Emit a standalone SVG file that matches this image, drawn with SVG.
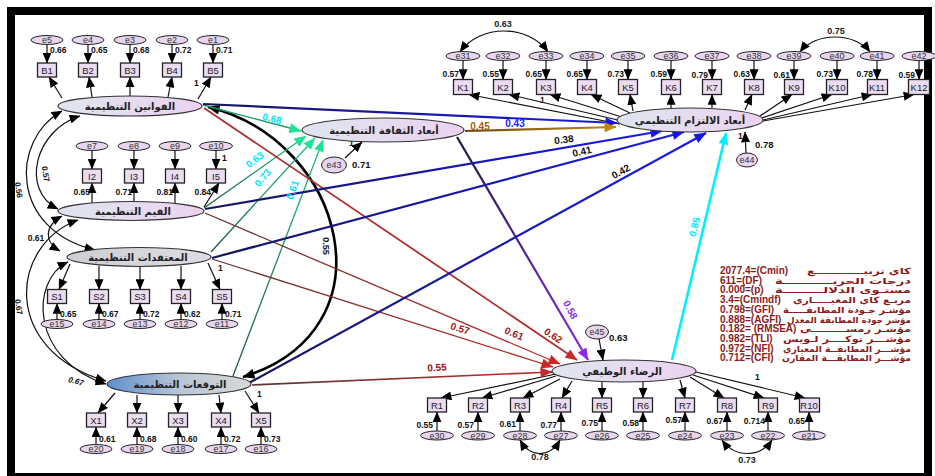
<svg xmlns="http://www.w3.org/2000/svg" width="935" height="476" viewBox="0 0 935 476">
<style>
  .box{fill:#ecdcf2;stroke:#222;stroke-width:1.3}
  .err{fill:#e8d6ef;stroke:#222;stroke-width:1}
  .lat{stroke:#333;stroke-width:1.2}
  .bt{font-family:"Liberation Sans",Arial,sans-serif;font-size:9.5px;fill:#222;text-anchor:middle}
  .et{font-family:"Liberation Sans",Arial,sans-serif;font-size:9px;fill:#333;text-anchor:middle}
  .lt{font-family:"DejaVu Sans","Noto Sans",sans-serif;font-size:10px;font-weight:bold;fill:#222}
  .ld{font-family:"Liberation Sans",Arial,sans-serif;font-size:8.5px;font-weight:bold;fill:#111}
  .pl{font-family:"Liberation Sans",Arial,sans-serif;font-size:10px;font-weight:bold}
  .st{font-family:"Liberation Sans",Arial,sans-serif;font-size:10px;font-weight:bold;fill:#8b1a1a}
  .sa{font-family:"DejaVu Sans","Noto Sans",sans-serif;font-size:8.5px;font-weight:bold;fill:#8b1a1a}
  .ind{fill:none;stroke:#111;stroke-width:1.2;marker-end:url(#ak)}
  .cov{fill:none;stroke:#111;stroke-width:1.2;marker-start:url(#akd);marker-end:url(#akd)}
</style>
<defs>
  <marker id="ak" viewBox="0 0 12 10" refX="11.5" refY="5" markerWidth="11" markerHeight="9" markerUnits="userSpaceOnUse" orient="auto"><path d="M0,0L12,5L0,10z" fill="#000"/></marker>
  <marker id="akd" viewBox="0 0 12 10" refX="11.5" refY="5" markerWidth="11" markerHeight="9" markerUnits="userSpaceOnUse" orient="auto-start-reverse"><path d="M0,0L12,5L0,10z" fill="#000"/></marker>
  <marker id="ag" viewBox="0 0 12 10" refX="11.5" refY="5" markerWidth="14" markerHeight="10" markerUnits="userSpaceOnUse" orient="auto"><path d="M0,0L12,5L0,10z" fill="#1fe394"/></marker>
  <marker id="ab" viewBox="0 0 12 10" refX="11.5" refY="5" markerWidth="14" markerHeight="10" markerUnits="userSpaceOnUse" orient="auto"><path d="M0,0L12,5L0,10z" fill="#1515f0"/></marker>
  <marker id="ar" viewBox="0 0 12 10" refX="11.5" refY="5" markerWidth="14" markerHeight="10" markerUnits="userSpaceOnUse" orient="auto"><path d="M0,0L12,5L0,10z" fill="#c42a2a"/></marker>
  <marker id="ap" viewBox="0 0 12 10" refX="11.5" refY="5" markerWidth="14" markerHeight="10" markerUnits="userSpaceOnUse" orient="auto"><path d="M0,0L12,5L0,10z" fill="#8a2be2"/></marker>
  <marker id="ac" viewBox="0 0 12 10" refX="11.5" refY="5" markerWidth="14" markerHeight="10" markerUnits="userSpaceOnUse" orient="auto"><path d="M0,0L12,5L0,10z" fill="#00f0ff"/></marker>
  <marker id="ao" viewBox="0 0 12 10" refX="11.5" refY="5" markerWidth="14" markerHeight="10" markerUnits="userSpaceOnUse" orient="auto"><path d="M0,0L12,5L0,10z" fill="#c08a14"/></marker>
  <marker id="akb" viewBox="0 0 12 10" refX="11.5" refY="5" markerWidth="14" markerHeight="10" markerUnits="userSpaceOnUse" orient="auto-start-reverse"><path d="M0,0L12,5L0,10z" fill="#000"/></marker>
  <linearGradient id="gLat" x1="0" y1="0" x2="1" y2="0"><stop offset="0" stop-color="#dfe5ef"/><stop offset="1" stop-color="#ecd2f0"/></linearGradient>
  <linearGradient id="gBel" x1="0" y1="0" x2="1" y2="0"><stop offset="0" stop-color="#cdcdd4"/><stop offset="1" stop-color="#dedde4"/></linearGradient>
  <linearGradient id="gExp" x1="0" y1="0" x2="1" y2="0"><stop offset="0" stop-color="#5f8fcc"/><stop offset="0.5" stop-color="#b9c5d6"/><stop offset="1" stop-color="#d8d8d8"/></linearGradient>
  <linearGradient id="gNavy" x1="0" y1="0" x2="1" y2="0"><stop offset="0" stop-color="#16165a"/><stop offset="1" stop-color="#1a1af0"/></linearGradient>
  <linearGradient id="gRed" x1="0" y1="0" x2="1" y2="0"><stop offset="0" stop-color="#5e3434"/><stop offset="1" stop-color="#c02a2a"/></linearGradient>
  <linearGradient id="gGrn" x1="0" y1="0" x2="1" y2="0"><stop offset="0" stop-color="#1d5a40"/><stop offset="1" stop-color="#1cc47c"/></linearGradient>
  <linearGradient id="gGold" x1="0" y1="0" x2="1" y2="0"><stop offset="0" stop-color="#6a4a14"/><stop offset="1" stop-color="#c08a14"/></linearGradient>
  <linearGradient id="gPur" gradientUnits="userSpaceOnUse" x1="457" y1="137" x2="588" y2="360"><stop offset="0" stop-color="#1c1c3c"/><stop offset="1" stop-color="#8a2be2"/></linearGradient>
</defs>

<rect x="0" y="0" width="935" height="476" fill="#fff"/>
<rect x="11" y="11" width="917" height="466" fill="none" stroke="#000" stroke-width="8"/>

<!-- connectors -->
<g id="connectors">
  <!-- laws -> B indicators, errors -> B -->
  <path class="ind" d="M62,98L49,77"/><path class="ind" d="M92,97L89,77"/><path class="ind" d="M130,96L130,77"/><path class="ind" d="M168,97L172,77"/><path class="ind" d="M198,99L211,77"/>
  <path class="ind" d="M47,45L47,63"/><path class="ind" d="M88,45L88,63"/><path class="ind" d="M130,45L130,63"/><path class="ind" d="M172,45L172,63"/><path class="ind" d="M213,45L213,63"/>
  <!-- values -> I -->
  <path class="ind" d="M92,203L92,183"/><path class="ind" d="M134,202L134,183"/><path class="ind" d="M175,203L175,183"/><path class="ind" d="M204,207L219,183"/>
  <path class="ind" d="M92,151L92,169"/><path class="ind" d="M134,151L134,169"/><path class="ind" d="M175,151L175,169"/><path class="ind" d="M216,151L216,169"/>
  <!-- beliefs -> S -->
  <path class="ind" d="M70,264L59,289.5"/><path class="ind" d="M99,266L99,289.5"/><path class="ind" d="M140,267L140,289.5"/><path class="ind" d="M181,266L181,289.5"/><path class="ind" d="M208,263L220,289.5"/>
  <path class="ind" d="M57,319.5L57,303.5"/><path class="ind" d="M99,319.5L99,303.5"/><path class="ind" d="M140,319.5L140,303.5"/><path class="ind" d="M181,319.5L181,303.5"/><path class="ind" d="M222,319.5L222,303.5"/>
  <!-- expectations -> X -->
  <path class="ind" d="M115,393L98,413"/><path class="ind" d="M137,395L137,413"/><path class="ind" d="M178,395L178,413"/><path class="ind" d="M219,395L221,413"/><path class="ind" d="M245,391L259,413"/>
  <path class="ind" d="M96,444.5L96,427"/><path class="ind" d="M137,444.5L137,427"/><path class="ind" d="M178,444.5L178,427"/><path class="ind" d="M221,444.5L221,427"/><path class="ind" d="M261,444.5L261,427"/>
  <!-- commitment -> K -->
  <path class="ind" d="M620,124L469,94.5"/><path class="ind" d="M622,121L509,94.5"/><path class="ind" d="M625,118L550,94.5"/><path class="ind" d="M630,113L591,94.5"/>
  <path class="ind" d="M633,111L630,94.5"/><path class="ind" d="M671,108L671,94.5"/><path class="ind" d="M712,108L712,94.5"/><path class="ind" d="M745,110L752,94.5"/>
  <path class="ind" d="M760,116L792,94.5"/><path class="ind" d="M762,118L832,94.5"/><path class="ind" d="M763,120L872,94.5"/><path class="ind" d="M763,121L914,94.5"/>
  <path class="ind" d="M463,61L463,79.5"/><path class="ind" d="M503,61L503,79.5"/><path class="ind" d="M546,61L546,79.5"/><path class="ind" d="M587,61L587,79.5"/><path class="ind" d="M628,61L628,79.5"/><path class="ind" d="M671,61L671,79.5"/>
  <path class="ind" d="M712,61L712,79.5"/><path class="ind" d="M754,61L754,79.5"/><path class="ind" d="M794,61L794,79.5"/><path class="ind" d="M837,61L837,79.5"/><path class="ind" d="M877,61L877,79.5"/><path class="ind" d="M919,61L919,79.5"/>
  <!-- satisfaction -> R -->
  <path class="ind" d="M556,374L441,398"/><path class="ind" d="M556,376L482,398"/><path class="ind" d="M560,379L523,398"/><path class="ind" d="M572,381L562,398"/>
  <path class="ind" d="M602,382L602,398"/><path class="ind" d="M643,382L643,398"/><path class="ind" d="M680,380L685,398"/>
  <path class="ind" d="M690,377L724,398"/><path class="ind" d="M693,375L764,398"/><path class="ind" d="M696,372L805,398"/>
  <path class="ind" d="M437,431L437,412"/><path class="ind" d="M478,431L478,412"/><path class="ind" d="M520,431L520,412"/><path class="ind" d="M561,431L561,412"/><path class="ind" d="M602,431L602,412"/>
  <path class="ind" d="M643,431L643,412"/><path class="ind" d="M685,431L685,412"/><path class="ind" d="M727,431L727,412"/><path class="ind" d="M768,431L768,412"/><path class="ind" d="M809,431L809,412"/>
  <!-- disturbances -->
  <path class="ind" d="M345,158L362,142"/>
  <path class="ind" d="M746,153L745,132"/>
  <path class="ind" d="M599,339L603,360"/>
  <!-- error covariances -->
  <path class="cov" d="M460,52C480,24 528,24 548,52"/>
  <path class="cov" d="M800,52C815,32 855,32 870,52"/>
  <path class="cov" d="M520,440C530,458 550,458 560,440"/>
  <path class="cov" d="M722,440C735,458 760,458 772,440"/>
  <!-- covariances between exogenous factors -->
  <path class="cov" d="M80,116C35,130 20,190 58,209"/>
  <path class="cov" d="M62,111C10,140 10,230 95,250"/>
  <path class="cov" d="M62,216C44,226 44,242 60,251"/>
  <path class="cov" d="M78,220C10,245 0,350 106,381"/>
  <path class="cov" d="M68,262C30,280 30,360 106,384"/>
  <path d="M208,107C345,140 395,330 243,377" fill="none" stroke="#000" stroke-width="2.6" marker-start="url(#akb)" marker-end="url(#akb)"/>
  <!-- paths to organisational culture -->
  <path d="M203,105L301,131" fill="none" stroke="#1aa064" stroke-width="1.3" marker-end="url(#ag)"/>
  <path d="M204,208L306,136" fill="none" stroke="url(#gGrn)" stroke-width="1.3" marker-end="url(#ag)"/>
  <path d="M211,252L315,138" fill="none" stroke="url(#gGrn)" stroke-width="1.3" marker-end="url(#ag)"/>
  <path d="M233,376L323,140" fill="none" stroke="url(#gGrn)" stroke-width="1.3" marker-end="url(#ag)"/>
  <!-- paths to satisfaction -->
  <path d="M204,108L577,360" fill="none" stroke="#b03030" stroke-width="1.8" marker-end="url(#ar)"/>
  <path d="M205,213L560,364" fill="none" stroke="url(#gRed)" stroke-width="1.3" marker-end="url(#ar)"/>
  <path d="M212,259L553,367" fill="none" stroke="url(#gRed)" stroke-width="1.3" marker-end="url(#ar)"/>
  <path d="M252,385L552,372" fill="none" stroke="url(#gRed)" stroke-width="1.6" marker-end="url(#ar)"/>
  <path d="M457,137L588,360" fill="none" stroke="url(#gPur)" stroke-width="2.2" marker-end="url(#ap)"/>
  <!-- paths to commitment -->
  <path d="M203,104L617,123" fill="none" stroke="url(#gNavy)" stroke-width="2.2" marker-end="url(#ab)"/>
  <path d="M465,131L616,127" fill="none" stroke="url(#gGold)" stroke-width="2.2" marker-end="url(#ao)"/>
  <path d="M205,209L662,131" fill="none" stroke="url(#gNavy)" stroke-width="2.2" marker-end="url(#ab)"/>
  <path d="M212,258L684,132" fill="none" stroke="url(#gNavy)" stroke-width="2.2" marker-end="url(#ab)"/>
  <path d="M247,384L706,133" fill="none" stroke="url(#gNavy)" stroke-width="2.2" marker-end="url(#ab)"/>
  <path d="M672,360L726,133" fill="none" stroke="#00f0ff" stroke-width="2.6" marker-end="url(#ac)"/>
</g>

<!-- path coefficients -->
<g id="coefficients" class="pl">
  <text x="272" y="122" fill="#00e5ff" text-anchor="middle" transform="rotate(15 272 119)">0.68</text>
  <text x="255" y="163" fill="#00e5ff" text-anchor="middle" transform="rotate(-37 255 160)">0.63</text>
  <text x="263" y="181" fill="#00e5ff" text-anchor="middle" transform="rotate(-50 263 178)">0.73</text>
  <text x="293" y="193" fill="#00e5ff" text-anchor="middle" transform="rotate(-70 293 190)">0.61</text>
  <text x="480" y="130" fill="#a0620a" text-anchor="middle">0.45</text>
  <text x="515" y="127" fill="#2020ff" text-anchor="middle">0.43</text>
  <text x="564" y="143" fill="#111" text-anchor="middle" transform="rotate(-8 564 140)">0.38</text>
  <text x="582" y="155" fill="#111" text-anchor="middle" transform="rotate(-13 582 152)">0.41</text>
  <text x="621" y="175" fill="#111" text-anchor="middle" transform="rotate(-29 621 172)">0.42</text>
  <text x="695" y="230" fill="#00e5ff" text-anchor="middle" transform="rotate(-76 695 227)">0.85</text>
  <text x="326" y="249" fill="#111" text-anchor="middle" font-size="9" transform="rotate(90 326 246)">0.55</text>
  <text x="553" y="339" fill="#a01414" text-anchor="middle" transform="rotate(33 553 336)">0.62</text>
  <text x="514" y="337" fill="#a01414" text-anchor="middle" transform="rotate(23 514 334)">0.61</text>
  <text x="460" y="332" fill="#a01414" text-anchor="middle" transform="rotate(17 460 329)">0.57</text>
  <text x="437" y="371" fill="#a01414" text-anchor="middle" transform="rotate(-3 437 368)">0.55</text>
  <text x="570" y="313" fill="#8a2be2" text-anchor="middle" transform="rotate(62 570 310)">0.58</text>
  <!-- covariances -->
  <text x="46" y="177" fill="#111" font-size="8" text-anchor="middle" transform="rotate(80 46 174)">0.57</text>
  <text x="19" y="193" fill="#111" font-size="8" text-anchor="middle" transform="rotate(80 19 190)">0.56</text>
  <text x="36" y="241" fill="#111" font-size="8.5" text-anchor="middle">0.61</text>
  <text x="19" y="310" fill="#111" font-size="8" text-anchor="middle" transform="rotate(80 19 307)">0.67</text>
  <text x="76" y="384" fill="#111" font-size="8" font-style="italic" text-anchor="middle" transform="rotate(15 76 381)">0.67</text>
  <text x="503" y="27" fill="#222" font-size="9" text-anchor="middle">0.63</text>
  <text x="836" y="34" fill="#222" font-size="9" text-anchor="middle">0.75</text>
  <text x="540" y="460" fill="#222" font-size="9" text-anchor="middle">0.78</text>
  <text x="747" y="463" fill="#222" font-size="9" text-anchor="middle">0.73</text>
  <!-- disturbance values and fixed paths -->
  <text x="352" y="168" fill="#111" font-size="9.5">0.71</text>
  <text x="755" y="148" fill="#111" font-size="9.5">0.78</text>
  <text x="609" y="341" fill="#111" font-size="9.5">0.63</text>
</g>
<g id="fixed" class="ld" font-weight="normal">
  <text x="194" y="86">1</text><text x="222" y="161">1</text><text x="218" y="271">1</text><text x="257" y="397">1</text>
  <text x="540" y="103">1</text><text x="755" y="380">1</text><text x="349" y="146">1</text><text x="738" y="139">1</text>
</g>

<!-- loadings -->
<g id="loadings" class="ld">
  <text x="50" y="53">0.66</text><text x="91" y="53">0.65</text><text x="133" y="53">0.68</text><text x="175" y="53">0.72</text><text x="216" y="53">0.71</text>
  <g text-anchor="end"><text x="90" y="195">0.65</text><text x="132" y="195">0.71</text><text x="173" y="195">0.81</text><text x="211" y="195">0.84</text></g>
  <text x="60" y="317">0.65</text><text x="102" y="317">0.67</text><text x="143" y="317">0.72</text><text x="184" y="317">0.62</text><text x="225" y="317">0.71</text>
  <text x="99" y="442">0.61</text><text x="140" y="442">0.68</text><text x="181" y="442">0.60</text><text x="224" y="442">0.72</text><text x="264" y="442">0.73</text>
  <g text-anchor="end">
    <text x="459" y="77">0.57</text><text x="499" y="77">0.55</text><text x="542" y="77">0.65</text><text x="583" y="77">0.65</text><text x="624" y="77">0.73</text><text x="667" y="77">0.59</text>
    <text x="708" y="78">0.79</text><text x="750" y="77">0.63</text><text x="790" y="78">0.61</text><text x="833" y="77">0.73</text><text x="873" y="77">0.78</text><text x="915" y="78">0.59</text>
    <text x="433" y="428">0.55</text><text x="474" y="428">0.57</text><text x="516" y="427">0.61</text><text x="557" y="428">0.77</text><text x="598" y="426">0.75</text>
    <text x="639" y="426">0.58</text><text x="682" y="423">0.57</text><text x="723" y="424">0.67</text><text x="765" y="424">0.714</text><text x="805" y="424">0.65</text>
  </g>
</g>

<!-- latent factors -->
<g id="n-laws"><ellipse class="lat" cx="130" cy="106" rx="72" ry="10" fill="url(#gLat)"/><text class="lt" x="130" y="109.5" text-anchor="middle">القوانين التنظيمية</text></g>
<g id="n-values"><ellipse class="lat" cx="131" cy="211" rx="73" ry="9.5" fill="url(#gLat)"/><text class="lt" x="133" y="214.5" text-anchor="middle">القيم التنظيمية</text></g>
<g id="n-beliefs"><ellipse class="lat" cx="139" cy="257" rx="72" ry="9.5" fill="url(#gBel)"/><text class="lt" x="138" y="260.5" text-anchor="middle">المعتقدات التنظيمية</text></g>
<g id="n-expect"><ellipse class="lat" cx="179" cy="384" rx="72" ry="11" fill="url(#gExp)"/><text class="lt" x="180" y="387.5" text-anchor="middle">التوقعات التنظيمية</text></g>
<g id="n-culture"><ellipse class="lat" cx="383" cy="130" rx="81" ry="12" fill="url(#gLat)"/><text class="lt" x="384" y="133.5" text-anchor="middle">أبعاد الثقافة التنظيمية</text></g>
<g id="n-commit"><ellipse class="lat" cx="690" cy="120" rx="73" ry="12" fill="url(#gLat)"/><text class="lt" x="690" y="123.5" text-anchor="middle">أبعاد الالتزام التنظيمي</text></g>
<g id="n-satis"><ellipse class="lat" cx="624" cy="371" rx="72" ry="11" fill="url(#gLat)"/><text class="lt" x="622" y="374.5" text-anchor="middle">الرضاء الوظيفي</text></g>

<!-- disturbances -->
<g id="n-e43"><ellipse class="err" cx="334" cy="165" rx="12.5" ry="8"/><text class="et" x="334" y="168">e43</text></g>
<g id="n-e44"><ellipse class="err" cx="747" cy="160" rx="10.5" ry="7"/><text class="et" x="747" y="163">e44</text></g>
<g id="n-e45"><ellipse class="err" cx="597" cy="332" rx="11.5" ry="7"/><text class="et" x="597" y="335">e45</text></g>

<!-- B indicators -->
<g id="n-B1"><rect class="box" x="37.5" y="63" width="19" height="14"/><text class="bt" x="47" y="73.5">B1</text></g>
<g id="n-B2"><rect class="box" x="78.5" y="63" width="19" height="14"/><text class="bt" x="88" y="73.5">B2</text></g>
<g id="n-B3"><rect class="box" x="120.5" y="63" width="19" height="14"/><text class="bt" x="130" y="73.5">B3</text></g>
<g id="n-B4"><rect class="box" x="162.5" y="63" width="19" height="14"/><text class="bt" x="172" y="73.5">B4</text></g>
<g id="n-B5"><rect class="box" x="203.5" y="63" width="19" height="14"/><text class="bt" x="213" y="73.5">B5</text></g>
<g id="n-e5"><ellipse class="err" cx="47" cy="40" rx="16" ry="4.5"/><text class="et" x="47" y="43">e5</text></g>
<g id="n-e4"><ellipse class="err" cx="88" cy="40" rx="16" ry="4.5"/><text class="et" x="88" y="43">e4</text></g>
<g id="n-e3"><ellipse class="err" cx="130" cy="40" rx="16" ry="4.5"/><text class="et" x="130" y="43">e3</text></g>
<g id="n-e2"><ellipse class="err" cx="172" cy="40" rx="16" ry="4.5"/><text class="et" x="172" y="43">e2</text></g>
<g id="n-e1"><ellipse class="err" cx="213" cy="40" rx="16" ry="4.5"/><text class="et" x="213" y="43">e1</text></g>

<!-- I indicators -->
<g id="n-I2"><rect class="box" x="82.5" y="169" width="19" height="14"/><text class="bt" x="92" y="179.5">I2</text></g>
<g id="n-I3"><rect class="box" x="124.5" y="169" width="19" height="14"/><text class="bt" x="134" y="179.5">I3</text></g>
<g id="n-I4"><rect class="box" x="165.5" y="169" width="19" height="14"/><text class="bt" x="175" y="179.5">I4</text></g>
<g id="n-I5"><rect class="box" x="206.5" y="169" width="19" height="14"/><text class="bt" x="216" y="179.5">I5</text></g>
<g id="n-e7"><ellipse class="err" cx="92" cy="146" rx="16" ry="4.5"/><text class="et" x="92" y="149">e7</text></g>
<g id="n-e8"><ellipse class="err" cx="134" cy="146" rx="16" ry="4.5"/><text class="et" x="134" y="149">e8</text></g>
<g id="n-e9"><ellipse class="err" cx="175" cy="146" rx="16" ry="4.5"/><text class="et" x="175" y="149">e9</text></g>
<g id="n-e10"><ellipse class="err" cx="216" cy="146" rx="16.5" ry="4.5"/><text class="et" x="216" y="149">e10</text></g>

<!-- S indicators -->
<g id="n-S1"><rect class="box" x="47.5" y="289.5" width="19" height="14"/><text class="bt" x="57" y="300">S1</text></g>
<g id="n-S2"><rect class="box" x="89.5" y="289.5" width="19" height="14"/><text class="bt" x="99" y="300">S2</text></g>
<g id="n-S3"><rect class="box" x="130.5" y="289.5" width="19" height="14"/><text class="bt" x="140" y="300">S3</text></g>
<g id="n-S4"><rect class="box" x="171.5" y="289.5" width="19" height="14"/><text class="bt" x="181" y="300">S4</text></g>
<g id="n-S5"><rect class="box" x="212.5" y="289.5" width="19" height="14"/><text class="bt" x="222" y="300">S5</text></g>
<g id="n-e15"><ellipse class="err" cx="57" cy="324" rx="16" ry="4.5"/><text class="et" x="57" y="327">e15</text></g>
<g id="n-e14"><ellipse class="err" cx="99" cy="324" rx="16" ry="4.5"/><text class="et" x="99" y="327">e14</text></g>
<g id="n-e13"><ellipse class="err" cx="140" cy="324" rx="16" ry="4.5"/><text class="et" x="140" y="327">e13</text></g>
<g id="n-e12"><ellipse class="err" cx="181" cy="324" rx="16" ry="4.5"/><text class="et" x="181" y="327">e12</text></g>
<g id="n-e11"><ellipse class="err" cx="222" cy="324" rx="16" ry="4.5"/><text class="et" x="222" y="327">e11</text></g>

<!-- X indicators -->
<g id="n-X1"><rect class="box" x="86.5" y="413" width="19" height="14"/><text class="bt" x="96" y="423.5">X1</text></g>
<g id="n-X2"><rect class="box" x="127.5" y="413" width="19" height="14"/><text class="bt" x="137" y="423.5">X2</text></g>
<g id="n-X3"><rect class="box" x="168.5" y="413" width="19" height="14"/><text class="bt" x="178" y="423.5">X3</text></g>
<g id="n-X4"><rect class="box" x="211.5" y="413" width="19" height="14"/><text class="bt" x="221" y="423.5">X4</text></g>
<g id="n-X5"><rect class="box" x="251.5" y="413" width="19" height="14"/><text class="bt" x="261" y="423.5">X5</text></g>
<g id="n-e20"><ellipse class="err" cx="96" cy="449" rx="16" ry="4.5"/><text class="et" x="96" y="452">e20</text></g>
<g id="n-e19"><ellipse class="err" cx="137" cy="449" rx="16" ry="4.5"/><text class="et" x="137" y="452">e19</text></g>
<g id="n-e18"><ellipse class="err" cx="178" cy="449" rx="16" ry="4.5"/><text class="et" x="178" y="452">e18</text></g>
<g id="n-e17"><ellipse class="err" cx="221" cy="449" rx="16" ry="4.5"/><text class="et" x="221" y="452">e17</text></g>
<g id="n-e16"><ellipse class="err" cx="261" cy="449" rx="16" ry="4.5"/><text class="et" x="261" y="452">e16</text></g>

<!-- K indicators -->
<g id="n-K1"><rect class="box" x="453.5" y="79.5" width="19" height="15"/><text class="bt" x="463" y="90.5">K1</text></g>
<g id="n-K2"><rect class="box" x="493.5" y="79.5" width="19" height="15"/><text class="bt" x="503" y="90.5">K2</text></g>
<g id="n-K3"><rect class="box" x="536.5" y="79.5" width="19" height="15"/><text class="bt" x="546" y="90.5">K3</text></g>
<g id="n-K4"><rect class="box" x="577.5" y="79.5" width="19" height="15"/><text class="bt" x="587" y="90.5">K4</text></g>
<g id="n-K5"><rect class="box" x="618.5" y="79.5" width="19" height="15"/><text class="bt" x="628" y="90.5">K5</text></g>
<g id="n-K6"><rect class="box" x="661.5" y="79.5" width="19" height="15"/><text class="bt" x="671" y="90.5">K6</text></g>
<g id="n-K7"><rect class="box" x="702.5" y="79.5" width="19" height="15"/><text class="bt" x="712" y="90.5">K7</text></g>
<g id="n-K8"><rect class="box" x="744.5" y="79.5" width="19" height="15"/><text class="bt" x="754" y="90.5">K8</text></g>
<g id="n-K9"><rect class="box" x="784.5" y="79.5" width="19" height="15"/><text class="bt" x="794" y="90.5">K9</text></g>
<g id="n-K10"><rect class="box" x="826.5" y="79.5" width="21" height="15"/><text class="bt" x="837" y="90.5">K10</text></g>
<g id="n-K11"><rect class="box" x="867.5" y="79.5" width="20" height="15"/><text class="bt" x="877" y="90.5">K11</text></g>
<g id="n-K12"><rect class="box" x="908.5" y="79.5" width="21" height="15"/><text class="bt" x="919" y="90.5">K12</text></g>
<g id="n-e31"><ellipse class="err" cx="463" cy="56" rx="17" ry="4.5"/><text class="et" x="463" y="59">e31</text></g>
<g id="n-e32"><ellipse class="err" cx="503" cy="56" rx="17" ry="4.5"/><text class="et" x="503" y="59">e32</text></g>
<g id="n-e33"><ellipse class="err" cx="546" cy="56" rx="17" ry="4.5"/><text class="et" x="546" y="59">e33</text></g>
<g id="n-e34"><ellipse class="err" cx="587" cy="56" rx="17" ry="4.5"/><text class="et" x="587" y="59">e34</text></g>
<g id="n-e35"><ellipse class="err" cx="628" cy="56" rx="17" ry="4.5"/><text class="et" x="628" y="59">e35</text></g>
<g id="n-e36"><ellipse class="err" cx="671" cy="56" rx="17" ry="4.5"/><text class="et" x="671" y="59">e36</text></g>
<g id="n-e37"><ellipse class="err" cx="712" cy="56" rx="17" ry="4.5"/><text class="et" x="712" y="59">e37</text></g>
<g id="n-e38"><ellipse class="err" cx="754" cy="56" rx="17" ry="4.5"/><text class="et" x="754" y="59">e38</text></g>
<g id="n-e39"><ellipse class="err" cx="794" cy="56" rx="17" ry="4.5"/><text class="et" x="794" y="59">e39</text></g>
<g id="n-e40"><ellipse class="err" cx="837" cy="56" rx="17" ry="4.5"/><text class="et" x="837" y="59">e40</text></g>
<g id="n-e41"><ellipse class="err" cx="877" cy="56" rx="17" ry="4.5"/><text class="et" x="877" y="59">e41</text></g>
<g id="n-e42"><ellipse class="err" cx="919" cy="56" rx="17" ry="4.5"/><text class="et" x="919" y="59">e42</text></g>

<!-- R indicators -->
<g id="n-R1"><rect class="box" x="427.5" y="398" width="19" height="14"/><text class="bt" x="437" y="408.5">R1</text></g>
<g id="n-R2"><rect class="box" x="468.5" y="398" width="19" height="14"/><text class="bt" x="478" y="408.5">R2</text></g>
<g id="n-R3"><rect class="box" x="510.5" y="398" width="19" height="14"/><text class="bt" x="520" y="408.5">R3</text></g>
<g id="n-R4"><rect class="box" x="551.5" y="398" width="19" height="14"/><text class="bt" x="561" y="408.5">R4</text></g>
<g id="n-R5"><rect class="box" x="592.5" y="398" width="19" height="14"/><text class="bt" x="602" y="408.5">R5</text></g>
<g id="n-R6"><rect class="box" x="633.5" y="398" width="19" height="14"/><text class="bt" x="643" y="408.5">R6</text></g>
<g id="n-R7"><rect class="box" x="675.5" y="398" width="19" height="14"/><text class="bt" x="685" y="408.5">R7</text></g>
<g id="n-R8"><rect class="box" x="717.5" y="398" width="19" height="14"/><text class="bt" x="727" y="408.5">R8</text></g>
<g id="n-R9"><rect class="box" x="758.5" y="398" width="19" height="14"/><text class="bt" x="768" y="408.5">R9</text></g>
<g id="n-R10"><rect class="box" x="799.5" y="398" width="20" height="14"/><text class="bt" x="809" y="408.5">R10</text></g>
<g id="n-e30"><ellipse class="err" cx="437" cy="435.5" rx="16.5" ry="4.5"/><text class="et" x="437" y="438.5">e30</text></g>
<g id="n-e29"><ellipse class="err" cx="478" cy="435.5" rx="16.5" ry="4.5"/><text class="et" x="478" y="438.5">e29</text></g>
<g id="n-e28"><ellipse class="err" cx="520" cy="435.5" rx="16.5" ry="4.5"/><text class="et" x="520" y="438.5">e28</text></g>
<g id="n-e27"><ellipse class="err" cx="561" cy="435.5" rx="16.5" ry="4.5"/><text class="et" x="561" y="438.5">e27</text></g>
<g id="n-e26"><ellipse class="err" cx="602" cy="435.5" rx="16.5" ry="4.5"/><text class="et" x="602" y="438.5">e26</text></g>
<g id="n-e25"><ellipse class="err" cx="643" cy="435.5" rx="16.5" ry="4.5"/><text class="et" x="643" y="438.5">e25</text></g>
<g id="n-e24"><ellipse class="err" cx="685" cy="435.5" rx="16.5" ry="4.5"/><text class="et" x="685" y="438.5">e24</text></g>
<g id="n-e23"><ellipse class="err" cx="727" cy="435.5" rx="16.5" ry="4.5"/><text class="et" x="727" y="438.5">e23</text></g>
<g id="n-e22"><ellipse class="err" cx="768" cy="435.5" rx="16.5" ry="4.5"/><text class="et" x="768" y="438.5">e22</text></g>
<g id="n-e21"><ellipse class="err" cx="809" cy="435.5" rx="16.5" ry="4.5"/><text class="et" x="809" y="438.5">e21</text></g>

<!-- fit indices -->
<g id="fit">
  <text class="st" x="720" y="274">2077.4=(Cmin)</text><text class="sa" x="807" y="274" textLength="104" lengthAdjust="spacingAndGlyphs">كاي تربيــــــــــــع</text>
  <text class="st" x="720" y="283.7">611=(DF)</text><text class="sa" x="775" y="283.7" textLength="136" lengthAdjust="spacingAndGlyphs">درجات الحريـــــــــــة</text>
  <text class="st" x="720" y="293.4">0.000=(p)</text><text class="sa" x="775" y="293.4" textLength="136" lengthAdjust="spacingAndGlyphs">مستـوى الدلالـــــــــة</text>
  <text class="st" x="720" y="303.1">3.4=(Cmindf)</text><text class="sa" x="793" y="303.1" textLength="118" lengthAdjust="spacingAndGlyphs">مربـع كاي المعيـــــاري</text>
  <text class="st" x="720" y="312.8">0.798=(GFI)</text><text class="sa" x="783" y="312.8" textLength="128" lengthAdjust="spacingAndGlyphs">مؤشـر جـودة المطابقـــــة</text>
  <text class="st" x="720" y="322.5">0.888=(AGFI)</text><text class="sa" x="787" y="322.5" textLength="124" lengthAdjust="spacingAndGlyphs">مؤشر جودة المطابقة المعدل</text>
  <text class="st" x="720" y="332.2">0.182= (RMSEA)</text><text class="sa" x="800" y="332.2" textLength="111" lengthAdjust="spacingAndGlyphs">مؤشـر رمســـــــــي</text>
  <text class="st" x="720" y="341.9">0.982=(TLI)</text><text class="sa" x="783" y="341.9" textLength="128" lengthAdjust="spacingAndGlyphs">مؤشـــر توكــــر لـويس</text>
  <text class="st" x="720" y="351.6">0.972=(NFI)</text><text class="sa" x="783" y="351.6" textLength="128" lengthAdjust="spacingAndGlyphs">مؤشـــر المطابقــة المعياري</text>
  <text class="st" x="720" y="361.3">0.712=(CFI)</text><text class="sa" x="782" y="361.3" textLength="129" lengthAdjust="spacingAndGlyphs">مؤشـــر المطابقـــة المقارن</text>
</g>
</svg>
